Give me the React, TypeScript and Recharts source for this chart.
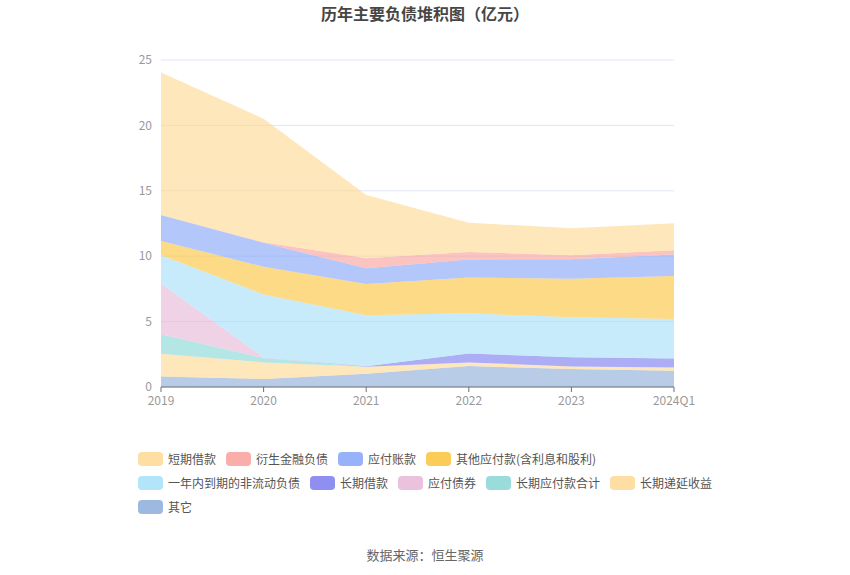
import { Area, AreaChart, CartesianGrid, XAxis, YAxis } from 'recharts'

const years = ['2019', '2020', '2021', '2022', '2023', '2024Q1']

// 亿元, bottom of the stack first
const other = [0.81, 0.61, 1.02, 1.6, 1.37, 1.24]
const deferredIncome = [1.73, 1.27, 0.53, 0.28, 0.2, 0.26]
const longTermPayables = [1.5, 0.33, 0, 0, 0, 0]
const bondsPayable = [3.88, 0.05, 0, 0, 0, 0]
const longTermLoans = [0, 0, 0.03, 0.68, 0.71, 0.68]
const currentNonCurrent = [2.16, 4.82, 3.91, 3.07, 3.05, 3.02]
const otherPayables = [1.09, 2.11, 2.38, 2.75, 2.94, 3.28]
const accountsPayable = [1.98, 1.83, 1.2, 1.37, 1.5, 1.65]
const derivatives = [0, 0.05, 0.78, 0.58, 0.31, 0.33]
const shortTermLoans = [10.89, 9.44, 4.82, 2.23, 2.05, 2.05]

const yTicks = [0, 5, 10, 15, 20, 25]

const series = [
  { key: 'other', name: '其它', color: '#8dadd9', values: other },
  { key: 'deferredIncome', name: '长期递延收益', color: '#fed892', values: deferredIncome },
  { key: 'longTermPayables', name: '长期应付款合计', color: '#88d6d6', values: longTermPayables },
  { key: 'bondsPayable', name: '应付债券', color: '#e7b7d8', values: bondsPayable },
  { key: 'longTermLoans', name: '长期借款', color: '#7b7bf0', values: longTermLoans },
  { key: 'currentNonCurrent', name: '一年内到期的非流动负债', color: '#a5dff9', values: currentNonCurrent },
  { key: 'otherPayables', name: '其他应付款(含利息和股利)', color: '#fbc33b', values: otherPayables },
  { key: 'accountsPayable', name: '应付账款', color: '#86a4f9', values: accountsPayable },
  { key: 'derivatives', name: '衍生金融负债', color: '#f9a09a', values: derivatives },
  { key: 'shortTermLoans', name: '短期借款', color: '#fed892', values: shortTermLoans },
]

const legendRows = [
  ['shortTermLoans', 'derivatives', 'accountsPayable', 'otherPayables'],
  ['currentNonCurrent', 'longTermLoans', 'bondsPayable', 'longTermPayables', 'deferredIncome'],
  ['other'],
]

const data = years.map((year, i) => {
  const row: Record<string, string | number> = { year }
  series.forEach((s) => { row[s.key] = s.values[i] })
  return row
})

const font = '"Noto Sans CJK SC", "Noto Sans", sans-serif'

export default function App() {
  return (
    <div style={{ position: 'absolute', left: 0, top: 0, width: 850, height: 575, background: '#fff', fontFamily: font }}>
      <div style={{ position: 'absolute', top: 1, width: 850, textAlign: 'center', fontSize: 16, fontWeight: 'bold', color: '#464646' }}>
        历年主要负债堆积图（亿元）
      </div>
      <AreaChart width={850} height={575} data={data} margin={{ top: 60, right: 176, left: 111, bottom: 158 }}>
        <CartesianGrid vertical={false} stroke="#e0e6f1" />
        <XAxis
          dataKey="year"
          axisLine={{ stroke: '#6e7079' }}
          tickLine={{ stroke: '#6e7079' }}
          tickSize={5}
          height={30}
          tick={{ fill: '#999', fontSize: 12, fontFamily: font }}
          tickMargin={4}
        />
        <YAxis
          domain={[0, 25]}
          ticks={yTicks}
          axisLine={false}
          tickLine={false}
          tickSize={0}
          tickMargin={9}
          width={50}
          tick={{ fill: '#999', fontSize: 12, fontFamily: font }}
        />
        {series.map((s) => (
          <Area
            key={s.key}
            dataKey={s.key}
            name={s.name}
            stackId="1"
            type="linear"
            stroke="none"
            fill={s.color}
            fillOpacity={0.62}
            isAnimationActive={false}
          />
        ))}
      </AreaChart>
      <div style={{ position: 'absolute', left: 138, top: 447, fontSize: 12, lineHeight: '16px', color: '#555' }}>
        {legendRows.map((row, r) => (
          <div key={r} style={{ display: 'flex', height: 24, alignItems: 'center' }}>
            {row.map((key) => {
              const s = series.find((x) => x.key === key)!
              return (
                <div key={key} style={{ display: 'flex', alignItems: 'center', marginRight: 10 }}>
                  <span style={{ width: 25, height: 14, borderRadius: 4, background: s.color, opacity: 0.85, marginRight: 5 }} />
                  <span>{s.name}</span>
                </div>
              )
            })}
          </div>
        ))}
      </div>
      <div style={{ position: 'absolute', top: 545, width: 850, textAlign: 'center', fontSize: 13, color: '#666' }}>
        数据来源：恒生聚源
      </div>
    </div>
  )
}
